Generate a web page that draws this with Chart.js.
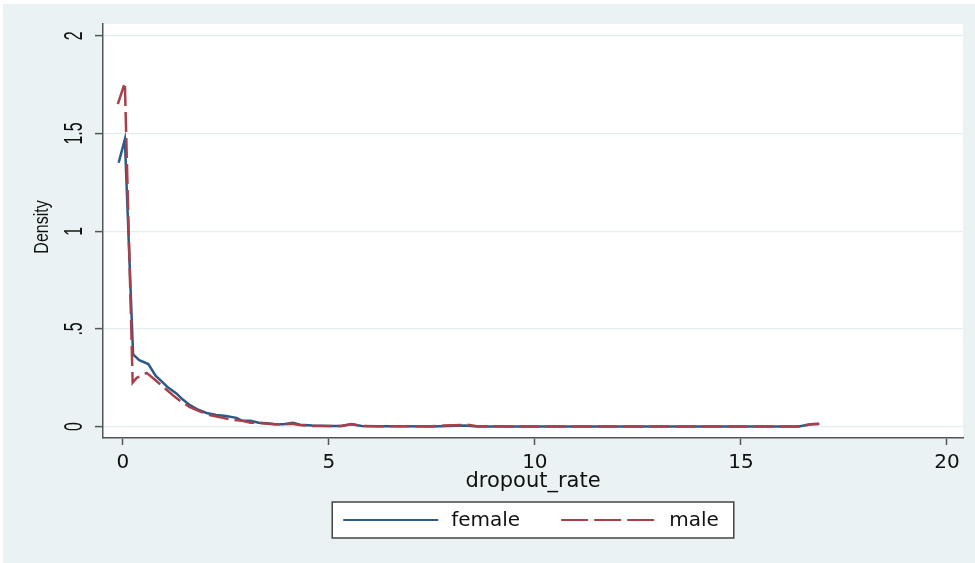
<!DOCTYPE html>
<html lang="en">
<head>
<meta charset="UTF-8">
<title>Kernel density of dropout_rate</title>
<script src="https://cdn.jsdelivr.net/npm/chart.js"></script>
<style>
  html, body { margin: 0; padding: 0; background: #fff; }
  #wrap { position: relative; width: 975px; height: 563px; }
</style>
</head>
<body>
<div id="wrap"><canvas id="chart"></canvas></div>
<script>
// kernel density estimates
const femaleX = [-0.1, 0.05, 0.25, 0.4, 0.62, 0.8, 0.95, 1.1, 1.3, 1.45, 1.63, 1.8, 2.03, 2.27, 2.5, 2.76, 2.9, 3.1, 3.3, 3.5, 3.7, 3.9, 4.13, 4.3, 4.6, 5.0, 5.3, 5.55, 5.8, 6.2, 6.8, 7.5, 8.3, 8.6, 9.5, 10.5, 12, 14, 16.4, 16.7, 16.9];
const femaleY = [1.35, 1.47, 0.37, 0.34, 0.32, 0.26, 0.23, 0.2, 0.17, 0.14, 0.11, 0.09, 0.07, 0.06, 0.055, 0.045, 0.03, 0.03, 0.02, 0.018, 0.012, 0.012, 0.02, 0.01, 0.006, 0.004, 0.003, 0.012, 0.003, 0.002, 0.002, 0.001, 0.006, 0.001, 0.001, 0.001, 0.001, 0.001, 0.001, 0.012, 0.014];

const maleX = [-0.12, 0.05, 0.24, 0.34, 0.58, 0.78, 1.0, 1.22, 1.4, 1.63, 1.85, 2.1, 2.43, 2.67, 2.9, 3.1, 3.3, 3.5, 3.7, 3.9, 4.1, 4.3, 4.6, 5.0, 5.3, 5.55, 5.8, 6.2, 6.8, 7.5, 7.8, 8.35, 8.6, 9.5, 10.5, 12, 14, 16.4, 16.7, 16.9];
const maleY = [1.65, 1.76, 0.225, 0.25, 0.275, 0.24, 0.2, 0.16, 0.13, 0.1, 0.08, 0.06, 0.045, 0.035, 0.03, 0.02, 0.02, 0.015, 0.012, 0.012, 0.015, 0.008, 0.004, 0.003, 0.003, 0.013, 0.003, 0.002, 0.002, 0.002, 0.006, 0.01, 0.002, 0.001, 0.001, 0.001, 0.001, 0.001, 0.012, 0.015];

const seriesNames = ['female', 'male'];
const xTicks = [0, 5, 10, 15, 20];
const yTicks = [0, 0.5, 1, 1.5, 2];
const yTickLabels = ['0', '.5', '1', '1.5', '2'];
const yTitle = 'Density';

function toPoints(xs, ys) {
  return xs.map((x, i) => ({ x: x, y: ys[i] }));
}

// stata-like grey graph region with a white plot region
const stataBackground = {
  id: 'stataBackground',
  beforeDraw(chart) {
    const { ctx, chartArea: a, width, height } = chart;
    ctx.save();
    ctx.fillStyle = '#ffffff';
    ctx.fillRect(0, 0, width, height);
    ctx.fillStyle = '#eaf2f3';
    ctx.fillRect(3, 4, width - 3, height - 4);
    ctx.fillStyle = '#ffffff';
    ctx.fillRect(a.left, a.top, a.right - a.left, a.bottom - a.top);
    ctx.restore();
  }
};

// y tick labels and title turned on their side, as stata does
function sideText(ctx, text, x, y, stretch) {
  ctx.save();
  ctx.translate(x, y);
  ctx.rotate(-Math.PI / 2);
  ctx.scale(1, stretch);
  ctx.fillText(text, 0, 0);
  ctx.restore();
}

const rotatedYLabels = {
  id: 'rotatedYLabels',
  afterDraw(chart) {
    const y = chart.scales.y;
    const ctx = chart.ctx;
    ctx.save();
    ctx.fillStyle = '#111';
    ctx.textAlign = 'center';
    ctx.textBaseline = 'alphabetic';
    ctx.font = '16px "Liberation Sans", Arial, sans-serif';
    yTicks.forEach((v, i) => {
      sideText(ctx, yTickLabels[i], y.right - 21, y.getPixelForValue(v), 1.6);
    });
    ctx.font = '16px "Liberation Sans", Arial, sans-serif';
    sideText(ctx, yTitle, 48, (y.top + y.bottom) / 2 - 4, 1.25);
    ctx.restore();
  }
};

// legend in a framed box under the axis title
const boxedLegend = {
  id: 'boxedLegend',
  afterDraw(chart) {
    const { ctx, chartArea: a } = chart;
    const ds = chart.data.datasets;
    ctx.save();
    ctx.font = '20px "DejaVu Sans", sans-serif';
    const lineLen = 95, textGap = 13, itemGap = 41, padL = 11, padR = 15;
    const widths = ds.map(d => ctx.measureText(d.label).width);
    const total = padL + padR + ds.length * (lineLen + textGap) +
      widths.reduce((s, w) => s + w, 0) + itemGap * (ds.length - 1);
    const left = (a.left + a.right) / 2 - total / 2;
    const top = a.bottom + 64, h = 36;
    ctx.fillStyle = '#fff';
    ctx.fillRect(left, top, total, h);
    ctx.strokeStyle = '#444';
    ctx.lineWidth = 1.5;
    ctx.strokeRect(left, top, total, h);
    let x = left + padL;
    const my = top + h / 2;
    ds.forEach((d, i) => {
      ctx.strokeStyle = d.borderColor;
      ctx.lineWidth = 2;
      ctx.setLineDash(d.legendDash || []);
      ctx.beginPath();
      ctx.moveTo(x, my);
      ctx.lineTo(x + lineLen, my);
      ctx.stroke();
      ctx.setLineDash([]);
      x += lineLen + textGap;
      ctx.fillStyle = '#111';
      ctx.textBaseline = 'middle';
      ctx.textAlign = 'left';
      ctx.fillText(d.label, x, my + 1);
      x += widths[i] + itemGap;
    });
    ctx.restore();
  }
};

new Chart(document.getElementById('chart'), {
  type: 'line',
  data: {
    datasets: [
      {
        label: seriesNames[0],
        data: toPoints(femaleX, femaleY),
        borderColor: '#2c5a88',
        borderWidth: 2.5,
        pointRadius: 0,
        tension: 0,
        fill: false,
        order: 1
      },
      {
        label: seriesNames[1],
        data: toPoints(maleX, maleY),
        borderColor: '#a6414c',
        borderWidth: 2.5,
        borderDash: [20, 6],
        legendDash: [27, 6],
        pointRadius: 0,
        tension: 0,
        fill: false,
        order: 0
      }
    ]
  },
  options: {
    responsive: true,
    maintainAspectRatio: false,
    animation: false,
    layout: { padding: { left: 0, top: 24, right: 12, bottom: 0 } },
    plugins: { legend: { display: false }, tooltip: { enabled: false } },
    scales: {
      x: {
        type: 'linear',
        min: -0.48,
        max: 20.39,
        afterBuildTicks: s => { s.ticks = xTicks.map(v => ({ value: v })); },
        afterFit: s => { s.height = 125; },
        ticks: {
          color: '#111',
          font: { family: '"DejaVu Sans", sans-serif', size: 20 },
          padding: 6,
          maxRotation: 0,
          autoSkip: false
        },
        grid: { drawOnChartArea: false, drawTicks: true, tickLength: 7, tickColor: '#555', tickWidth: 1.5 },
        border: { color: '#555', width: 1.5 },
        title: {
          display: true,
          text: 'dropout_rate',
          color: '#111',
          font: { family: '"DejaVu Sans", sans-serif', size: 21 },
          padding: { top: 0, bottom: 69 }
        }
      },
      y: {
        min: -0.058,
        max: 2.06,
        afterBuildTicks: s => { s.ticks = yTicks.map(v => ({ value: v })); },
        afterFit: s => { s.width = 103; },
        ticks: { display: false },
        grid: { color: '#e4edf0', lineWidth: 1.2, tickLength: 8, tickColor: '#555', tickWidth: 1.5 },
        border: { color: '#555', width: 1.5 },
        title: { display: false }
      }
    }
  },
  plugins: [stataBackground, rotatedYLabels, boxedLegend]
});
</script>
</body>
</html>
